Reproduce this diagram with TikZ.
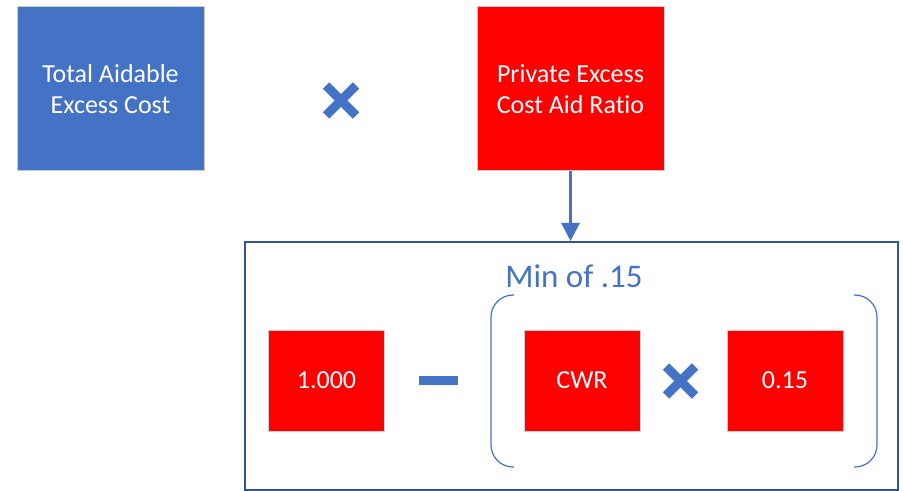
\documentclass[tikz,border=0pt]{standalone}
\usepackage{fontspec}
\setmainfont{Carlito}[Ligatures=NoCommon]
\usepackage{xcolor}
\usetikzlibrary{positioning,calc,arrows.meta}
\definecolor{accentblue}{HTML}{4472C4}
\definecolor{frameblue}{HTML}{2F5597}

\begin{document}
\begin{tikzpicture}[x=0.5pt,y=-0.5pt,
    bluebox/.style={rectangle,draw=gray!40,line width=0.5pt,fill=accentblue,text=white,
        minimum width=93.5pt,minimum height=82pt,inner sep=0pt,align=center,
        font=\fontsize{13}{15.5}\selectfont},
    redbox/.style={bluebox,fill=red},
    smallbox/.style={redbox,minimum width=58pt,minimum height=50.5pt},
    timesmark/.style={accentblue,line width=4.5pt},
    bracket/.style={accentblue,line width=0.6pt,rounded corners=11pt}]
    \useasboundingbox (0,0) rectangle (903,491);

    % Top row
    \node[bluebox] (aidable) at (110.5,89) {Total Aidable\\Excess Cost};
    \node[redbox] (ratio) at (570.5,89) {Private Excess\\Cost Aid Ratio};
    \coordinate (times1) at (341,100.5);
    \draw[timesmark] ($(times1)+(-15,-15)$) -- ($(times1)+(15,15)$);
    \draw[timesmark] ($(times1)+(-15,15)$) -- ($(times1)+(15,-15)$);

    % Frame with the ratio formula
    \node[draw=frameblue,line width=1pt,minimum width=326.5pt,minimum height=124pt] (frame) at (571.5,366) {};
    \draw[accentblue,line width=1.5pt,-{Triangle[length=9pt,width=9pt]}] (ratio.south) -- (ratio.south |- frame.north);
    \node[text=accentblue,font=\fontsize{16.5}{19}\selectfont] (minlabel) at (574,276) {Min of .15};

    % Formula: 1.000 - (CWR x 0.15)
    \node[smallbox] (one) at (326.5,380.5) {1.000};
    \coordinate (minus) at (438,380.5);
    \fill[accentblue] ($(minus)+(-19.5,-4.5)$) rectangle ($(minus)+(19.5,4.5)$);
    \draw[bracket] (514,295) -- (491,295) -- (491,467) -- (514,467);
    \node[smallbox] (cwr) at (582,380.5) {CWR};
    \coordinate (times2) at (680.5,381);
    \draw[timesmark] ($(times2)+(-14.5,-14.5)$) -- ($(times2)+(14.5,14.5)$);
    \draw[timesmark] ($(times2)+(-14.5,14.5)$) -- ($(times2)+(14.5,-14.5)$);
    \node[smallbox] (rate) at (785,380.5) {0.15};
    \draw[bracket] (854,295) -- (877,295) -- (877,467) -- (854,467);
\end{tikzpicture}
\end{document}
